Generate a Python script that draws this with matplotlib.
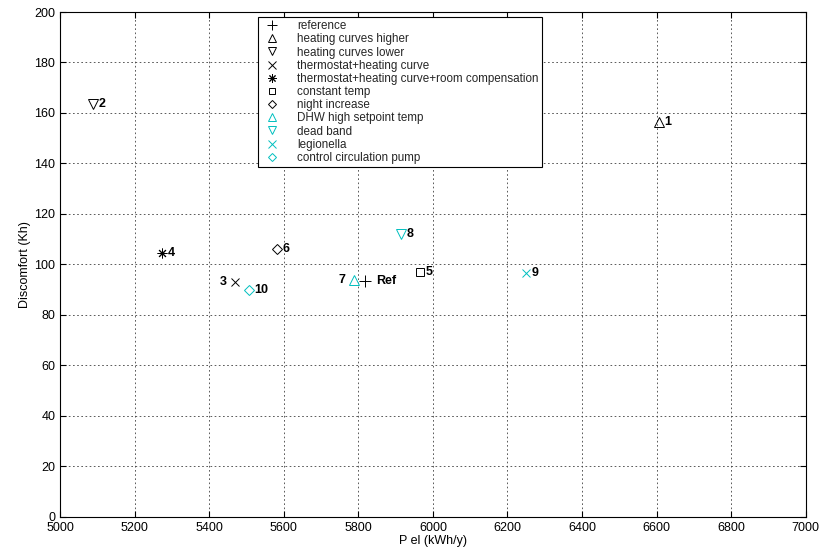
import matplotlib
matplotlib.use("Agg")
import matplotlib.pyplot as plt

plt.rcParams['font.family'] = ['Liberation Sans', 'DejaVu Sans']

# data
names = ["reference", "heating curves higher", "heating curves lower",
         "thermostat+heating curve", "thermostat+heating curve+room compensation",
         "constant temp", "night increase", "DHW high setpoint temp",
         "dead band", "legionella", "control circulation pump"]
tags = ["Ref", "1", "2", "3", "4", "5", "6", "7", "8", "9", "10"]
p_el = [5818, 6606, 5088, 5469, 5273, 5965, 5582, 5788, 5914, 6249, 5507]
discomfort = [93.5, 156.5, 163.5, 93, 104.5, 97, 106, 94, 112, 96.5, 90]
markers = ["+", "^", "v", "x", (8, 2, 0), "s", "D", "^", "v", "x", "D"]
colors = ["k", "k", "k", "k", "k", "k", "k", "c", "c", "c", "c"]
sizes = [8, 6.5, 6.5, 6, 7, 5.5, 5, 6.5, 6.5, 6, 5]

fig = plt.figure(figsize=(8.23, 5.48), dpi=100)
ax = fig.add_axes([0.073, 0.0566, 0.906, 0.9215])

for i in range(len(names)):
    ax.plot(p_el[i], discomfort[i], linestyle="none", marker=markers[i],
            markersize=sizes[i], markerfacecolor="none",
            markeredgecolor=colors[i], color=colors[i],
            markeredgewidth=0.7, label=names[i])

# point labels, most to the right, "7" and "3" to the left
for i, t in enumerate(tags):
    if t in ("7", "3"):
        ax.annotate(t, (p_el[i], discomfort[i]), xytext=(-6, 0),
                    textcoords="offset points", ha="right", va="center",
                    fontsize=9, fontweight="bold")
    else:
        off = 8 if t == "Ref" else 4
        ax.annotate(t, (p_el[i], discomfort[i]), xytext=(off, 0),
                    textcoords="offset points", ha="left", va="center",
                    fontsize=9, fontweight="bold")

ax.set_xlim(5000, 7000)
ax.set_ylim(0, 200)
ax.set_xticks(range(5000, 7001, 200))
ax.set_yticks(range(0, 201, 20))
ax.grid(True, linestyle=(0, (2, 3)), color="0.25", linewidth=0.6)
ax.tick_params(direction="in", labelsize=9, length=4, top=True, right=True)
ax.set_xlabel("P el (kWh/y)", fontsize=9, labelpad=1)
ax.set_ylabel("Discomfort (Kh)", fontsize=9, labelpad=2)

leg = ax.legend(loc="upper center", bbox_to_anchor=(0.456, 1.0), fontsize=8.4,
                frameon=True, fancybox=False, edgecolor="k", framealpha=1,
                borderpad=0.3, labelspacing=0.1, handletextpad=1.3,
                handlelength=1.8, borderaxespad=0.4, markerscale=0.85)
leg.get_frame().set_linewidth(0.8)
for txt in leg.get_texts():
    txt.set_color("0.15")

fig.savefig("out.png", dpi=100)
